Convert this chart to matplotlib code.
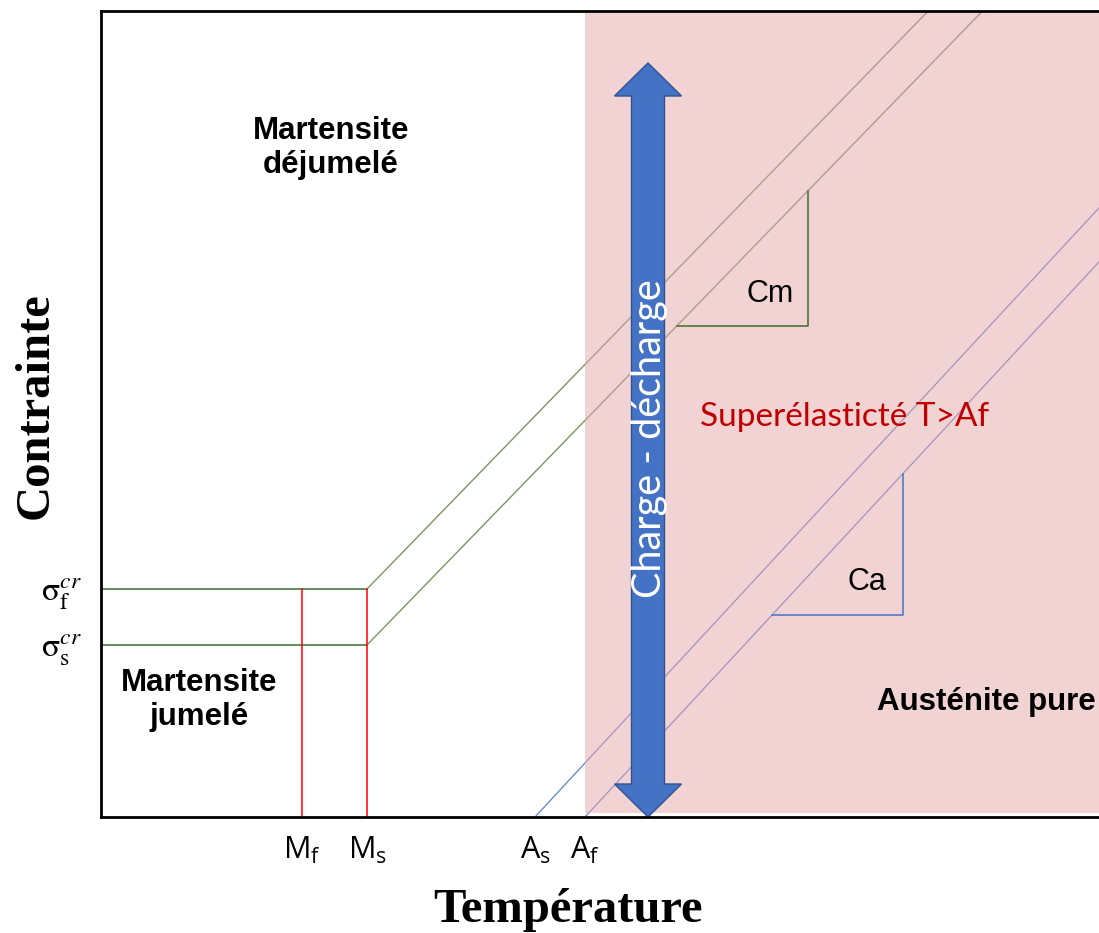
import matplotlib.pyplot as plt
from matplotlib.patches import Rectangle, Polygon

plt.rcParams['mathtext.fontset'] = 'stix'

# températures de transformation (unités schématiques)
temp_names = ['M_f', 'M_s', 'A_s', 'A_f']
temps = [201, 266, 434, 484]
# contraintes critiques
stress_names = [r'$\mathrm{\sigma}_\mathrm{s}^{cr}$', r'$\mathrm{\sigma}_\mathrm{f}^{cr}$']
stresses = [172, 228]
# pentes de Clausius-Clapeyron
slope_m = 1.03
slope_a = 1.08
x_max = 998
y_max = 806

Mf, Ms, As, Af = temps
sig_s, sig_f = stresses

fig = plt.figure(figsize=(10.99, 9.33), dpi=100)
ax = fig.add_axes([101 / 1099, 116 / 933, 998 / 1099, 806 / 933])
ax.set_xlim(0, x_max)
ax.set_ylim(0, y_max)

# plateaux et droites martensite
ax.plot([0, Ms], [sig_f, sig_f], color='#3f6b2c', lw=1.1)
ax.plot([0, Ms], [sig_s, sig_s], color='#3f6b2c', lw=1.1)
for s in stresses:
    xe = Ms + (y_max - s) / slope_m
    ax.plot([Ms, xe], [s, y_max], color='#7a9468', lw=1.0)

# droites austénite
for t in [As, Af]:
    xe = t + y_max / slope_a
    ax.plot([t, xe], [0, y_max], color='#5f82d4', lw=0.9)

# lignes Mf, Ms
for t in [Mf, Ms]:
    ax.plot([t, t], [0, sig_f], color='red', lw=1.1)

# zone superélastique
ax.add_patch(Rectangle((Af, 4), x_max - Af, y_max - 6, facecolor='#e6a8aa',
                       alpha=0.5, edgecolor='none', zorder=3))

# triangle Cm
cm_x0, cm_x1 = 576, 707
cm_y0 = sig_s + (cm_x0 - Ms) * slope_m
cm_y1 = sig_s + (cm_x1 - Ms) * slope_m
ax.plot([cm_x0, cm_x1, cm_x1], [cm_y0, cm_y0, cm_y1], color='#3f6b2c', lw=1.1, zorder=4)
ax.text(669, cm_y0 + 32, 'Cm', fontsize=22, family='Liberation Sans',
        ha='center', va='center', zorder=5)

# triangle Ca
ca_x0, ca_x1 = 671, 802
ca_y0 = (ca_x0 - Af) * slope_a
ca_y1 = (ca_x1 - Af) * slope_a
ax.plot([ca_x0, ca_x1, ca_x1], [ca_y0, ca_y0, ca_y1], color='#4472c4', lw=1.1, zorder=4)
ax.text(766, ca_y0 + 33, 'Ca', fontsize=22, family='Liberation Sans',
        ha='center', va='center', zorder=5)

# flèche charge - décharge
cx, w, hw, hl = 547, 16.5, 33.5, 33
y0, y1 = 0, 754
pts = [(cx, y1), (cx + hw, y1 - hl), (cx + w, y1 - hl), (cx + w, y0 + hl),
       (cx + hw, y0 + hl), (cx, y0), (cx - hw, y0 + hl), (cx - w, y0 + hl),
       (cx - w, y1 - hl), (cx - hw, y1 - hl)]
ax.add_patch(Polygon(pts, closed=True, facecolor='#4472c4', edgecolor='#2f528f',
                     lw=1, zorder=6))
ax.text(cx + 2, 378, 'Charge - décharge', rotation=90, color='white', fontsize=28.5,
        family='Lato', ha='center', va='center', zorder=7)

# textes des domaines
bold = dict(fontsize=22.5, fontweight='bold', family='Liberation Sans', zorder=7,
            linespacing=1.15)
ax.text(230, 669, 'Martensite\ndéjumelé', ha='center', va='center', **bold)
ax.text(98, 117, 'Martensite\njumelé', ha='center', va='center', **bold)
ax.text(776, 115, 'Austénite pure', ha='left', va='center', **bold)
ax.text(599, 400, 'Superélasticté T>Af', color='#c00000', fontsize=24,
        family='Lato', ha='left', va='center', zorder=7)

# axes
ax.set_xticks(temps)
ax.set_xticklabels([r'$\mathregular{%s}$' % n for n in temp_names],
                   fontsize=22, family='Open Sans')
ax.set_yticks(stresses)
ax.set_yticklabels(stress_names, fontsize=24)
ax.tick_params(axis='x', length=0, pad=13)
ax.tick_params(axis='y', length=0, pad=14)

ax.spines['right'].set_visible(False)
for sp in ax.spines.values():
    sp.set_linewidth(2)
    sp.set_zorder(8)

ax.set_xlabel('Température', fontsize=35, fontweight='bold',
              family='Liberation Serif', va='center')
ax.xaxis.set_label_coords((568 - 101) / x_max, (817 - 910) / y_max)
ax.set_ylabel('Contrainte', fontsize=35, fontweight='bold',
              family='Liberation Serif', va='center')
ax.yaxis.set_label_coords((36 - 101) / x_max, (817 - 406) / y_max)

fig.savefig('out.png', dpi=100)
